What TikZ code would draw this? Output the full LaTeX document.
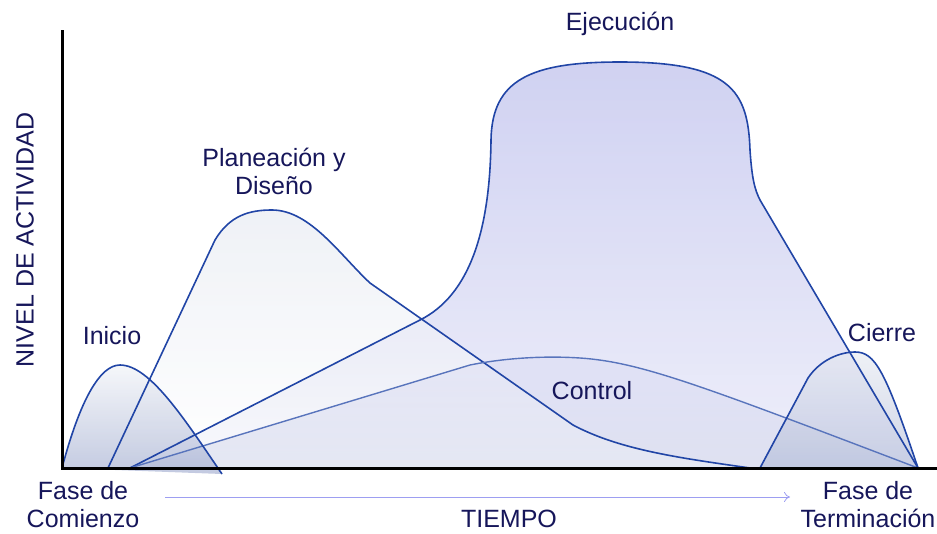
\documentclass[tikz,border=0pt]{standalone}
\usepackage{fontspec}
\setmainfont{Liberation Sans}
\usetikzlibrary{positioning, arrows.meta}

\definecolor{linea}{HTML}{2145A6}
\definecolor{texto}{HTML}{16165A}
\definecolor{lila}{HTML}{C4C6EE}
\definecolor{gris}{HTML}{E4E8F0}
\definecolor{azulgris}{HTML}{9AA6CC}

% trazos de cada fase
\newcommand{\curvaEjec}{(130,468) -- (420,320) .. controls (470,295) and (490,230) .. (491,140)
    .. controls (492,80) and (530,62) .. (620,62)
    .. controls (730,62) and (748,90) .. (750,150)
    .. controls (752,180) and (755,190) .. (760,200) -- (918,468)}
\newcommand{\curvaPlan}{(108,468) -- (215,240) .. controls (230,215) and (250,210) .. (272,210)
    .. controls (310,210) and (340,255) .. (370,283) -- (573,425)
    .. controls (620,450) and (680,458) .. (750,468)}
\newcommand{\curvaCtrl}{(130,468) -- (470,365) .. controls (510,357) and (550,356) .. (580,358)
    .. controls (640,362) and (700,385) .. (918,468)}
\newcommand{\curvaIni}{(62,468) .. controls (80,400) and (100,365) .. (120,365)
    .. controls (150,365) and (185,420) .. (222,474)}
\newcommand{\curvaCierre}{(760,468) -- (808,378) .. controls (820,360) and (840,352) .. (855,352)
    .. controls (875,352) and (885,370) .. (918,468)}

\begin{document}
\begin{tikzpicture}[x=1pt,y=-1pt,
    fase/.style={draw=linea, line width=1.6pt, line join=round},
    etiq/.style={text=texto, font=\fontsize{25}{28}\selectfont, align=center, inner sep=0pt}]
  \useasboundingbox (0,0) rectangle (937,533);
  % rellenos
  \path[top color=lila, bottom color=lila!35, fill opacity=0.8] \curvaEjec;
  \path[top color=gris, bottom color=white, fill opacity=0.6] \curvaPlan;
  \path[top color=lila!70, bottom color=azulgris!60, fill opacity=0.35] \curvaCtrl;
  \path[top color=gris!60, bottom color=azulgris, fill opacity=0.6] \curvaIni;
  \path[top color=gris, bottom color=azulgris!80, fill opacity=0.6] \curvaCierre;
  % contornos
  \draw[fase] \curvaEjec;
  \draw[fase] \curvaPlan;
  \draw[fase, draw=linea!75, line width=1.4pt] \curvaCtrl;
  \draw[fase] \curvaIni;
  \draw[fase] \curvaCierre;
  % ejes
  \draw[line width=3pt] (62,30) -- (62,468) -- (937,468);
  % textos
  \node[etiq, rotate=90] (nivel) at (25,240) {NIVEL DE ACTIVIDAD};
  \node[etiq] (inicio) at (112,336) {Inicio};
  \node[etiq] (plan) at (274,171) {Planeación y\\Diseño};
  \node[etiq] (ejec) at (620,24) {Ejecución};
  \node[etiq] (cierre) at (882,333) {Cierre};
  \node[etiq] (control) at (592,391) {Control};
  \node[etiq] (comienzo) at (83,505) {Fase de\\Comienzo};
  \node[etiq] (termina) at (868,505) {Fase de\\Terminación};
  \node[etiq] (tiempo) at (509,519) {TIEMPO};
  \coordinate (t0) at (165,497);
  \coordinate (t1) at (790,497);
  \draw[draw=lila!80!blue, line width=0.8pt, -{To[length=6pt,width=10pt]}] (t0) -- (t1);
\end{tikzpicture}
\end{document}
